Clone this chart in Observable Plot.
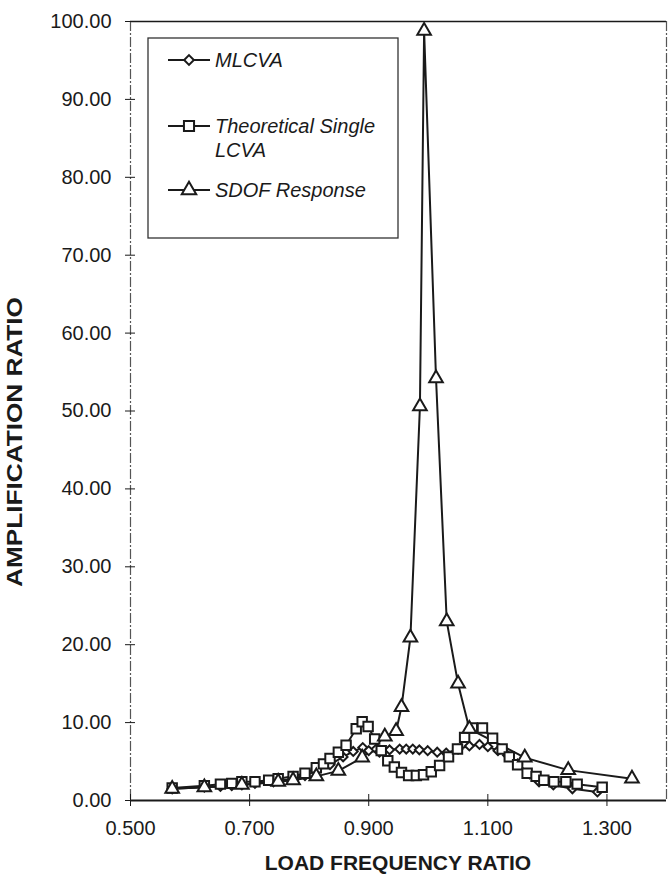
<!DOCTYPE html>
<html>
<head>
<meta charset="utf-8">
<script src="https://cdn.jsdelivr.net/npm/d3@7"></script>
<script src="https://cdn.jsdelivr.net/npm/@observablehq/plot@0.6"></script>
<style>
  html, body { margin: 0; padding: 0; background: #fff; }
  #chart { position: relative; width: 672px; height: 886px; }
</style>
</head>
<body>
<div id="chart"></div>
<script>
// ---- data ----
const seriesNames = ["MLCVA", "Theoretical Single LCVA", "SDOF Response"];
const legendLines = [["MLCVA"], ["Theoretical Single", "LCVA"], ["SDOF Response"]];

const mlcvaX = [0.570, 0.624, 0.651, 0.670, 0.687, 0.709, 0.740, 0.773, 0.793, 0.812, 0.835, 0.857, 0.874, 0.890, 0.900, 0.918, 0.935, 0.952, 0.963, 0.974, 0.985, 0.999, 1.015, 1.030, 1.050, 1.069, 1.086, 1.100, 1.117, 1.133, 1.150, 1.170, 1.186, 1.210, 1.242, 1.284];
const mlcvaY = [1.5, 1.7, 1.8, 1.9, 2.0, 2.2, 2.4, 2.8, 3.2, 3.8, 4.6, 5.6, 6.3, 6.8, 6.4, 6.2, 6.5, 6.6, 6.6, 6.6, 6.5, 6.4, 6.2, 6.1, 6.6, 7.0, 7.2, 6.9, 6.4, 5.8, 4.7, 3.4, 2.4, 2.0, 1.5, 1.1];

const lcvaX = [0.570, 0.624, 0.651, 0.670, 0.687, 0.709, 0.732, 0.748, 0.773, 0.793, 0.812, 0.824, 0.835, 0.849, 0.862, 0.879, 0.889, 0.899, 0.910, 0.921, 0.932, 0.943, 0.955, 0.967, 0.980, 0.992, 1.005, 1.019, 1.034, 1.049, 1.061, 1.074, 1.091, 1.108, 1.124, 1.136, 1.150, 1.166, 1.181, 1.194, 1.211, 1.231, 1.250, 1.292];
const lcvaY = [1.6, 1.9, 2.1, 2.2, 2.4, 2.4, 2.6, 2.8, 3.1, 3.5, 4.2, 4.7, 5.4, 6.2, 7.1, 9.2, 10.1, 9.5, 7.9, 6.4, 5.1, 4.3, 3.6, 3.2, 3.2, 3.3, 3.7, 4.5, 5.6, 6.6, 8.1, 9.3, 9.3, 8.0, 6.6, 5.6, 4.6, 3.5, 3.1, 2.6, 2.4, 2.4, 2.1, 1.7];

const sdofX = [0.570, 0.624, 0.687, 0.748, 0.773, 0.812, 0.849, 0.889, 0.927, 0.946, 0.955, 0.970, 0.986, 0.993, 1.013, 1.031, 1.050, 1.069, 1.162, 1.235, 1.342];
const sdofY = [1.5, 1.7, 2.0, 2.4, 2.6, 3.1, 3.8, 5.5, 8.2, 8.9, 12.0, 20.9, 50.6, 98.8, 54.2, 23.0, 15.0, 9.2, 5.5, 3.9, 2.8];

const xTicks = [0.5, 0.7, 0.9, 1.1, 1.3];
const yTicks = [0, 10, 20, 30, 40, 50, 60, 70, 80, 90, 100];
const xTitle = "LOAD FREQUENCY RATIO";
const yTitle = "AMPLIFICATION RATIO";

// ---- build table ----
const toRows = (xs, ys, s) => xs.map((x, i) => ({x, y: ys[i], s}));
const mlcva = toRows(mlcvaX, mlcvaY, seriesNames[0]);
const lcva = toRows(lcvaX, lcvaY, seriesNames[1]);
const sdof = toRows(sdofX, sdofY, seriesNames[2]);

const FONT = "'Liberation Sans', Arial, Helvetica, sans-serif";
const ink = "#1a1a1a";

const chart = Plot.plot({
  width: 672,
  height: 886,
  marginLeft: 130,
  marginRight: 6,
  marginTop: 21,
  marginBottom: 86,
  style: {fontFamily: FONT, fontSize: "20px", color: ink, background: "#fff"},
  x: {domain: [0.5, 1.4]},
  y: {domain: [0, 100]},
  marks: [
    // frame
    Plot.ruleY([100], {stroke: ink, strokeWidth: 1.5}),
    Plot.ruleX([1.4], {stroke: "#555", strokeWidth: 1.2, strokeDasharray: "10,2,2,2"}),
    Plot.ruleX([0.5], {stroke: "#555", strokeWidth: 1.2, strokeDasharray: "10,2,2,2"}),
    Plot.ruleY([0], {stroke: ink, strokeWidth: 1.8}),
    // axes
    Plot.axisY({ticks: yTicks, tickFormat: d3.format(".2f"), tickSize: 5, tickPadding: 14, label: null, stroke: ink, fontSize: 20}),
    Plot.axisY({ticks: yTicks, text: null, tickSize: 5, dx: 5, label: null, stroke: ink}),
    Plot.axisX({ticks: xTicks, tickFormat: d3.format(".3f"), tickSize: 6, tickPadding: 14, label: null, stroke: ink, fontSize: 20}),
    Plot.axisX({ticks: xTicks, text: null, tickSize: 6, dy: -6, label: null, stroke: ink}),
    // series lines
    Plot.line(sdof, {x: "x", y: "y", stroke: ink, strokeWidth: 2}),
    Plot.line(lcva, {x: "x", y: "y", stroke: ink, strokeWidth: 2}),
    Plot.line(mlcva, {x: "x", y: "y", stroke: ink, strokeWidth: 2}),
    // markers
    Plot.dot(mlcva, {x: "x", y: "y", symbol: "diamond2", r: 4, stroke: ink, strokeWidth: 2, fill: "#fff"}),
    Plot.dot(lcva, {x: "x", y: "y", symbol: "square2", r: 6, stroke: ink, strokeWidth: 2, fill: "#fff"}),
    Plot.dot(sdof, {x: "x", y: "y", symbol: "triangle2", r: 6.5, stroke: ink, strokeWidth: 2, fill: "#fff"})
  ]
});

document.getElementById("chart").appendChild(chart);

// axis titles and legend appended into the Plot SVG
const svg = d3.select(chart);
svg.append("text")
  .attr("x", 398).attr("y", 870)
  .attr("text-anchor", "middle")
  .attr("font-family", FONT).attr("font-weight", "bold").attr("font-size", 21)
  .attr("fill", ink)
  .text(xTitle);
svg.append("text")
  .attr("transform", "translate(22,442) rotate(-90)")
  .attr("text-anchor", "middle")
  .attr("font-family", FONT).attr("font-weight", "bold").attr("font-size", 22)
  .attr("textLength", 290).attr("lengthAdjust", "spacingAndGlyphs")
  .attr("fill", ink)
  .text(yTitle);

// legend
const lg = svg.append("g").attr("font-family", FONT).attr("font-style", "italic").attr("font-size", 20)
  .attr("fill", ink).attr("text-anchor", "start");
lg.append("rect").attr("x", 148).attr("y", 38).attr("width", 250).attr("height", 200)
  .attr("fill", "#fff").attr("stroke", "#333").attr("stroke-width", 1.3);
const rowsY = [60, 126, 190];
const symbols = [d3.symbolDiamond2, d3.symbolSquare2, d3.symbolTriangle2];
const symSize = [60, 130, 150];
legendLines.forEach((lines, i) => {
  const y = rowsY[i];
  lg.append("line").attr("x1", 168).attr("x2", 210).attr("y1", y).attr("y2", y).attr("stroke", ink).attr("stroke-width", 2);
  lg.append("path").attr("d", d3.symbol(symbols[i], symSize[i])()).attr("transform", `translate(189,${y})`)
    .attr("fill", "#fff").attr("stroke", ink).attr("stroke-width", 2);
  lines.forEach((t, j) => {
    lg.append("text").attr("x", 215).attr("y", y + 7 + j * 24).text(t);
  });
});
</script>
</body>
</html>
